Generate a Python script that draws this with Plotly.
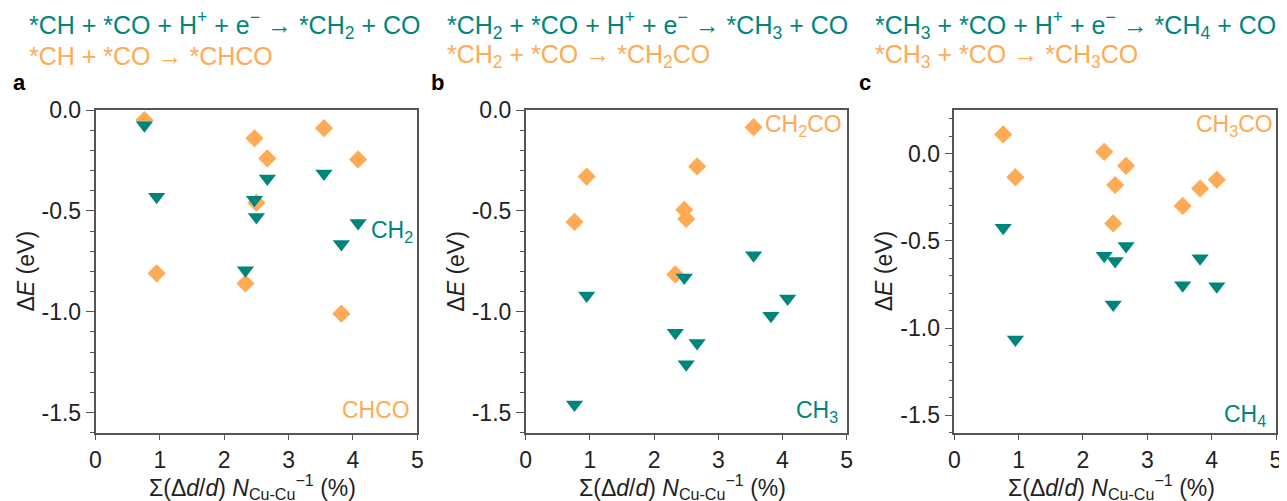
import plotly.graph_objects as go

# shared x values, Σ(Δd/d) N_Cu-Cu^-1 (%)
strain = [0.76, 0.95, 2.33, 2.47, 2.50, 2.67, 3.55, 3.82, 4.08]

# panel a: *CH
chco = [-0.05, -0.81, -0.86, -0.14, -0.46, -0.24, -0.09, -1.01, -0.245]
ch2 = [-0.075, -0.43, -0.795, -0.445, -0.53, -0.34, -0.315, -0.665, -0.56]

# panel b: *CH2
ch2co = [-0.555, -0.33, -0.815, -0.495, -0.54, -0.28, -0.085, None, None]
ch3 = [-1.46, -0.92, -1.105, -0.83, -1.26, -1.155, -0.72, -1.02, -0.935]

# panel c: *CH3
ch3co = [0.11, -0.135, 0.01, -0.40, -0.18, -0.07, -0.30, -0.20, -0.15]
ch4 = [-0.425, -1.065, -0.585, -0.865, -0.615, -0.53, -0.755, -0.60, -0.76]

# tick labels (hyphen minus, as in the original)
y_tickvals = [0.0, -0.5, -1.0, -1.5]
y_ticktext = ["0.0", "-0.5", "-1.0", "-1.5"]
x_tickvals = [0, 1, 2, 3, 4, 5]
x_ticktext = ["0", "1", "2", "3", "4", "5"]

headers_top = [
    "*CH + *CO + H<sup>+</sup> + e<sup>−</sup> → *CH<sub>2</sub> + CO",
    "*CH<sub>2</sub> + *CO + H<sup>+</sup> + e<sup>−</sup> → *CH<sub>3</sub> + CO",
    "*CH<sub>3</sub> + *CO + H<sup>+</sup> + e<sup>−</sup> → *CH<sub>4</sub> + CO",
]
headers_bottom = [
    "*CH + *CO → *CHCO",
    "*CH<sub>2</sub> + *CO → *CH<sub>2</sub>CO",
    "*CH<sub>3</sub> + *CO → *CH<sub>3</sub>CO",
]
letters = ["a", "b", "c"]

ORANGE = "#FFAA55"
TEAL = "#00857D"
FONT = "Liberation Sans, Arial, sans-serif"
W, H = 1287, 501
OFF = 8  # the page body adds an 8px margin, so pull everything back by that much


def px_x(x):
    return (x - OFF) / W


def px_y(y):
    return 1 - (y - OFF) / H


# pixel boxes of the three plot areas (as seen in the picture)
xdoms = [(95.5, 417.3), (525.7, 846.7), (954.3, 1276.0)]
ytop, ybot = 110.0, 432.7
yranges = [[-1.6, 0.0], [-1.6, 0.0], [-1.6, 0.25]]

fig = go.Figure()

panels = [(chco, ch2), (ch2co, ch3), (ch3co, ch4)]
for i, (ora, tea) in enumerate(panels):
    sx = "x" if i == 0 else "x%d" % (i + 1)
    sy = "y" if i == 0 else "y%d" % (i + 1)
    fig.add_trace(go.Scatter(x=strain, y=ora, mode="markers", xaxis=sx, yaxis=sy,
                             marker=dict(symbol="diamond", size=14, color=ORANGE),
                             showlegend=False))
    fig.add_trace(go.Scatter(x=strain, y=tea, mode="markers", xaxis=sx, yaxis=sy,
                             marker=dict(symbol="triangle-down", size=15, color=TEAL),
                             showlegend=False))

axis_common = dict(showline=True, linecolor="#555555", linewidth=1.5, mirror=True,
                   ticks="outside", tickcolor="#555555", tickwidth=1.2,
                   showgrid=False, zeroline=False, automargin=False,
                   tickfont=dict(size=23, color="#222222", family=FONT))

layout = dict(width=W, height=H, margin=dict(l=0, r=0, t=0, b=0, autoexpand=False),
              plot_bgcolor="white", paper_bgcolor="white",
              font=dict(family=FONT, color="#222222"))

for i in range(3):
    k = "" if i == 0 else str(i + 1)
    x0, x1 = xdoms[i]
    layout["xaxis" + k] = dict(axis_common, domain=[px_x(x0), px_x(x1)], range=[0, 5],
                               tickvals=x_tickvals, ticktext=x_ticktext,
                               ticklen=6, anchor="y" + k)
    layout["yaxis" + k] = dict(axis_common, domain=[px_y(ybot), px_y(ytop)],
                               range=yranges[i], tickvals=y_tickvals, ticktext=y_ticktext,
                               ticklen=8, anchor="x" + k,
                               minor=dict(dtick=0.1, tick0=0, ticks="outside", ticklen=4,
                                          tickcolor="#555555", tickwidth=1.2))

fig.update_layout(**layout)

ann = []
head_x = [27, 445, 873]
for i in range(3):
    ann.append(dict(text=headers_top[i], x=px_x(head_x[i]), y=px_y(25), xref="paper", yref="paper",
                    xanchor="left", yanchor="middle", showarrow=False,
                    font=dict(size=25, color=TEAL, family=FONT)))
    ann.append(dict(text=headers_bottom[i], x=px_x(head_x[i]), y=px_y(56), xref="paper", yref="paper",
                    xanchor="left", yanchor="middle", showarrow=False,
                    font=dict(size=25, color=ORANGE, family=FONT)))
    ann.append(dict(text="<b>%s</b>" % letters[i], x=px_x(head_x[i] - 16), y=px_y(82),
                    xref="paper", yref="paper", xanchor="left", yanchor="middle", showarrow=False,
                    font=dict(size=22, color="black", family=FONT)))
    x0, x1 = xdoms[i]
    ann.append(dict(text="Σ(Δ<i>d</i>/<i>d</i>) <i>N</i><sub>Cu-Cu</sub><sup>−1</sup> (%)",
                    x=px_x((x0 + x1) / 2 - 4), y=px_y(487), xref="paper", yref="paper",
                    xanchor="center", yanchor="middle", showarrow=False,
                    font=dict(size=23, color="#222222", family=FONT)))
    ann.append(dict(text="Δ<i>E</i> (eV)", x=px_x(x0 - 70), y=px_y(271),
                    xref="paper", yref="paper", xanchor="center", yanchor="middle",
                    textangle=-90, showarrow=False,
                    font=dict(size=23, color="#222222", family=FONT)))

# species labels inside the panels
ann += [
    dict(text="CH<sub>2</sub>", x=4.25, y=-0.6, xref="x", yref="y", xanchor="left"),
    dict(text="CHCO", x=4.92, y=-1.485, xref="x", yref="y", xanchor="right"),
    dict(text="CH<sub>2</sub>CO", x=3.7, y=-0.075, xref="x2", yref="y2", xanchor="left"),
    dict(text="CH<sub>3</sub>", x=4.9, y=-1.495, xref="x2", yref="y2", xanchor="right"),
    dict(text="CH<sub>3</sub>CO", x=4.98, y=0.16, xref="x3", yref="y3", xanchor="right"),
    dict(text="CH<sub>4</sub>", x=4.88, y=-1.5, xref="x3", yref="y3", xanchor="right"),
]
label_colors = [TEAL, ORANGE, ORANGE, TEAL, ORANGE, TEAL]
for a, c in zip(ann[-6:], label_colors):
    a.update(showarrow=False, yanchor="middle", font=dict(size=23, color=c, family=FONT))

fig.update_layout(annotations=ann)
fig.write_html("out.html")
